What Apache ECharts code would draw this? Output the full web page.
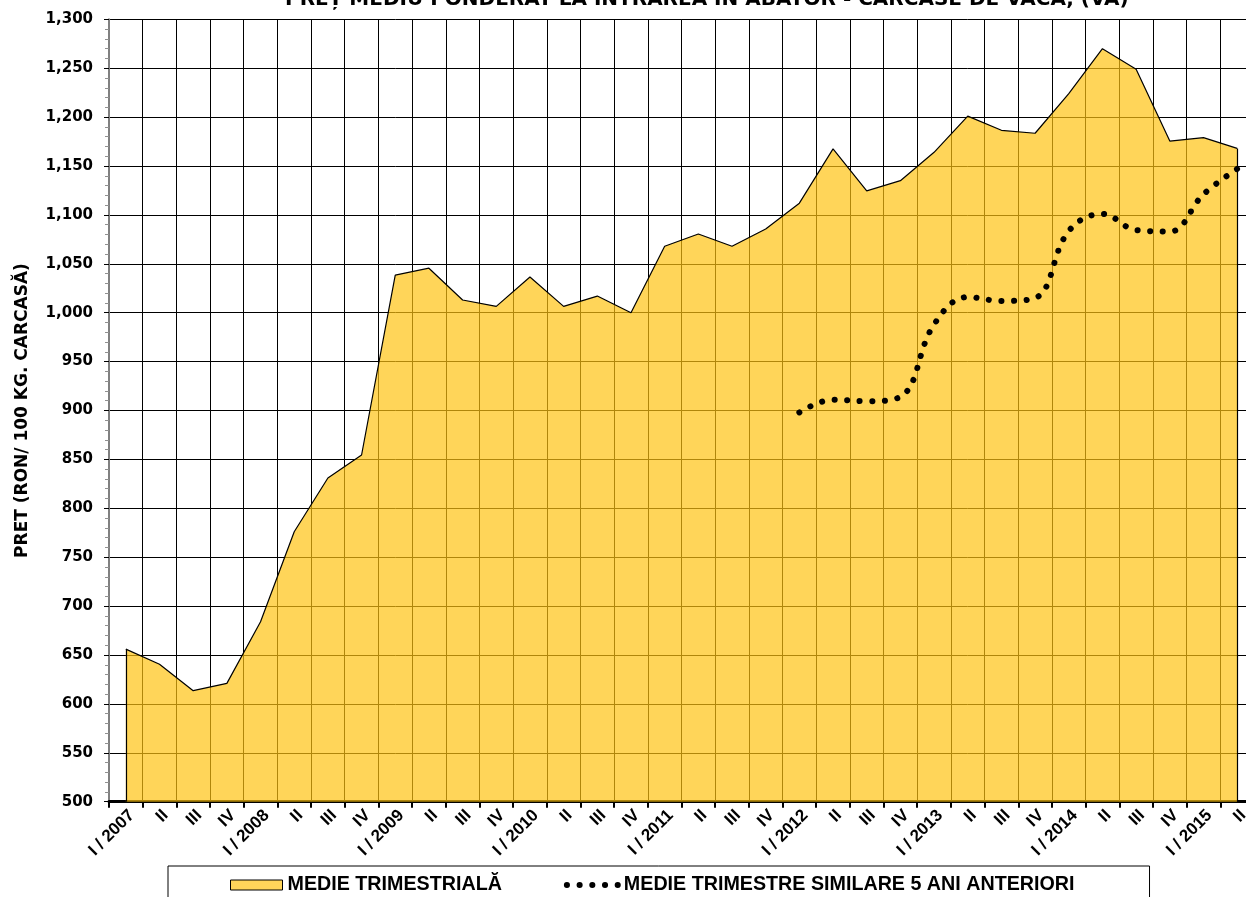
<!DOCTYPE html>
<html lang="ro">
<head>
    <meta charset="UTF-8">
    <title>Pret mediu ponderat</title>
    <script type="text/javascript" src="https://cdn.jsdelivr.net/npm/echarts@6/dist/echarts.min.js"></script>
    <style>
        html, body { margin: 0; padding: 0; overflow: hidden; background: #fff; }
        #container { width: 1254px; height: 897px; }
    </style>
</head>
<body>
<div id="container"></div>
<script type="text/javascript">
    // trimestre
    var categories = [
        'I / 2007', 'II', 'III', 'IV',
        'I / 2008', 'II', 'III', 'IV',
        'I / 2009', 'II', 'III', 'IV',
        'I / 2010', 'II', 'III', 'IV',
        'I / 2011', 'II', 'III', 'IV',
        'I / 2012', 'II', 'III', 'IV',
        'I / 2013', 'II', 'III', 'IV',
        'I / 2014', 'II', 'III', 'IV',
        'I / 2015', 'II'
    ];
    // medie trimestriala (RON / 100 kg carcasa)
    var medieTrimestriala = [
        656, 640.5, 613.5, 621,
        684, 776, 831, 854.5,
        1038.5, 1045.5, 1013, 1006.5,
        1036.5, 1006.5, 1017, 1000,
        1068, 1080.5, 1068, 1085.5,
        1112, 1167.5, 1124.5, 1135,
        1164, 1201, 1186.5, 1183.5,
        1224, 1270, 1249, 1175.5,
        1179, 1168
    ];
    // medie trimestre similare 5 ani anteriori
    var medieAniAnteriori = [
        null, null, null, null,
        null, null, null, null,
        null, null, null, null,
        null, null, null, null,
        null, null, null, null,
        898, 911, 909.5, 914,
        988, 1016, 1012, 1015,
        1083.5, 1101, 1084.5, 1083,
        1121, 1147
    ];
    var yTicks = { min: 500, max: 1300, step: 50 };

    var numeSerie1 = 'MEDIE TRIMESTRIALĂ';
    var numeSerie2 = 'MEDIE TRIMESTRE SIMILARE 5 ANI ANTERIORI';

    var last = medieTrimestriala.length - 1;

    var myChart = echarts.init(document.getElementById('container'), null, { renderer: 'canvas' });

    var option = {
        animation: false,
        title: {
            text: 'PREȚ MEDIU PONDERAT LA INTRAREA ÎN ABATOR - CARCASE DE VACĂ, (VA)',
            left: 285,
            top: -10,
            padding: 0,
            textStyle: { fontFamily: 'DejaVu Sans', fontWeight: 'bold', fontSize: 20, color: '#000' }
        },
        legend: {
            left: 168,
            top: 866,
            padding: [9, 75, 30, 62],
            itemGap: 62,
            itemWidth: 52,
            itemHeight: 10,
            selectedMode: false,
            borderColor: '#000',
            borderWidth: 1,
            backgroundColor: '#fff',
            textStyle: { fontFamily: 'Liberation Sans', fontWeight: 'bold', fontSize: 19.7, color: '#000' },
            data: [
                { name: numeSerie1, icon: 'rect', itemStyle: { color: '#FFD55A', borderColor: '#000', borderWidth: 1 } },
                {
                    name: numeSerie2,
                    itemStyle: { color: 'transparent', borderWidth: 0 },
                    lineStyle: { color: '#000', width: 6, type: [0.1, 12.6], cap: 'round' }
                }
            ]
        },
        grid: { left: 109, right: 0, top: 19.3, bottom: 95.3 },
        xAxis: {
            type: 'category',
            boundaryGap: true,
            data: categories,
            axisLine: { lineStyle: { color: '#000', width: 3 } },
            axisTick: { show: true, length: 6, lineStyle: { color: '#000', width: 2 } },
            axisLabel: {
                interval: 0, rotate: 45, margin: 5, verticalAlign: 'top',
                fontFamily: 'Liberation Sans', fontWeight: 'bold', fontSize: 17, color: '#000'
            },
            splitLine: { show: true, interval: 0, lineStyle: { color: '#000', width: 1 } }
        },
        yAxis: {
            type: 'value',
            min: yTicks.min,
            max: yTicks.max,
            interval: yTicks.step,
            name: 'PRET (RON/ 100 KG. CARCASĂ)',
            nameLocation: 'middle',
            nameGap: 78,
            nameTextStyle: { fontFamily: 'DejaVu Sans', fontWeight: 'bold', fontSize: 17, color: '#000' },
            axisLine: { show: true, lineStyle: { color: '#808080', width: 2 } },
            axisTick: { show: true, length: 5, lineStyle: { color: '#000', width: 1 } },
            minorTick: { show: true, splitNumber: 5, length: 4, lineStyle: { color: '#909090', width: 1 } },
            axisLabel: {
                margin: 16,
                fontFamily: 'DejaVu Sans', fontWeight: 'bold', fontSize: 15, color: '#000',
                formatter: function (v) { return v.toLocaleString('en-US'); }
            },
            splitLine: { show: true, lineStyle: { color: '#000', width: 1 } }
        },
        series: [
            {
                name: numeSerie1,
                type: 'line',
                data: medieTrimestriala,
                symbol: 'none',
                itemStyle: { color: '#FFD55A' },
                lineStyle: { color: '#000', width: 1.2 },
                areaStyle: { color: 'rgb(255,194,14)', opacity: 0.69, origin: 'start' },
                markLine: {
                    silent: true,
                    symbol: 'none',
                    label: { show: false },
                    lineStyle: { color: '#000', width: 1.2, type: 'solid' },
                    data: [
                        [{ coord: [categories[0], medieTrimestriala[0]] }, { coord: [categories[0], yTicks.min] }],
                        [{ coord: [last, medieTrimestriala[last]] }, { coord: [last, yTicks.min] }]
                    ]
                },
                z: 2
            },
            {
                name: numeSerie2,
                type: 'line',
                data: medieAniAnteriori,
                symbol: 'none',
                smooth: 0.4,
                itemStyle: { color: '#000' },
                lineStyle: { color: '#000', width: 6, type: [0.1, 12.5], cap: 'round' },
                z: 3
            }
        ]
    };

    myChart.setOption(option);
    window.addEventListener('resize', myChart.resize);
</script>
</body>
</html>
